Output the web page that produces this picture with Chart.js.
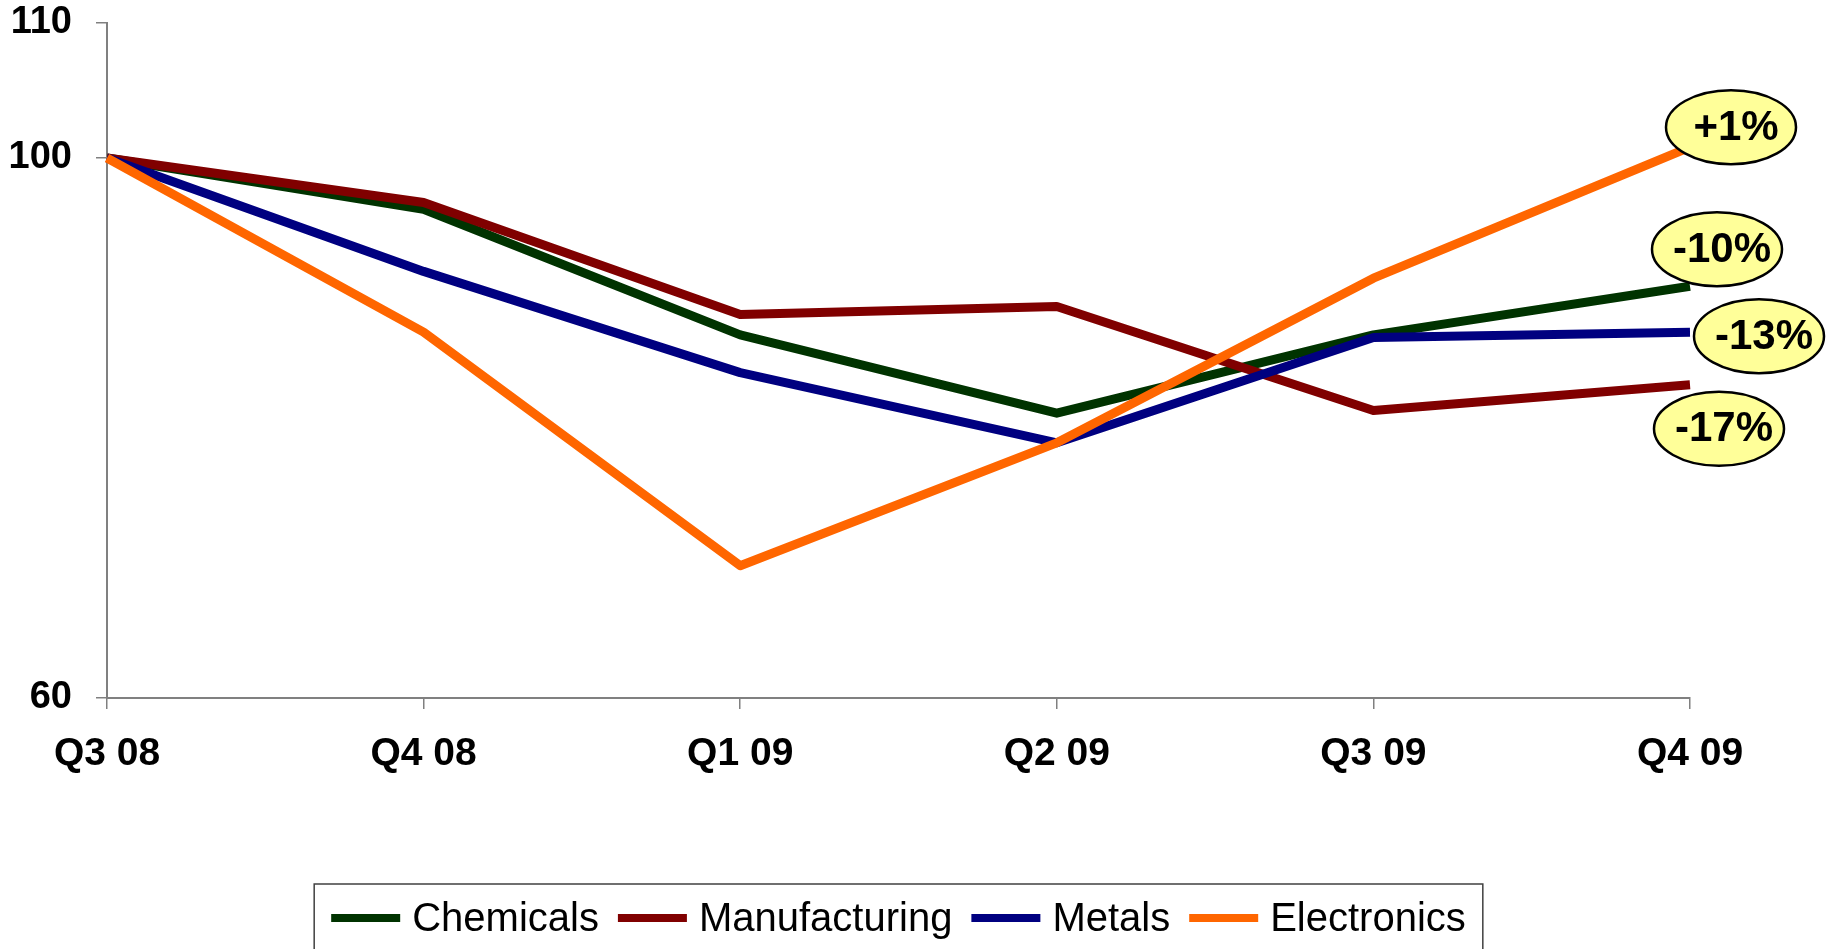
<!DOCTYPE html>
<html>
<head>
<meta charset="utf-8">
<script src="https://cdn.jsdelivr.net/npm/chart.js@4.4.1/dist/chart.umd.min.js"></script>
<style>
  html, body { margin: 0; padding: 0; background: #fff; }
  #wrap { width: 1838px; height: 949px; }
</style>
</head>
<body>
<div id="wrap"><canvas id="chart" width="1838" height="949"></canvas></div>
<script>
const quarters = ["Q3 08", "Q4 08", "Q1 09", "Q2 09", "Q3 09", "Q4 09"];
const chemicals = [100, 96.2, 86.9, 81.1, 86.9, 90.5];
const manufacturing = [100, 96.7, 88.4, 89.0, 81.3, 83.2];
const metals = [100, 91.6, 84.1, 78.9, 86.7, 87.1];
const electronics = [100, 87.1, 69.8, 78.9, 91.1, 100.8];
const changeLabels = ["-10%", "-17%", "-13%", "+1%"];
const yTicks = [60, 100, 110];

const FONT = "'Liberation Sans', Arial, sans-serif";

// yellow bubbles with the change, placed next to each line's last point
const endBubbles = {
  id: "endBubbles",
  afterDatasetsDraw(chart) {
    const ctx = chart.ctx;
    const offsets = [[27, -37], [29, 44], [69, 4], [41, -20]];
    chart.data.datasets.forEach((ds, i) => {
      const pts = chart.getDatasetMeta(i).data;
      const last = pts[pts.length - 1];
      const cx = last.x + offsets[i][0];
      const cy = last.y + offsets[i][1];
      ctx.save();
      ctx.beginPath();
      ctx.ellipse(cx, cy, 65, 37, 0, 0, Math.PI * 2);
      ctx.fillStyle = "#FFFF99";
      ctx.fill();
      ctx.lineWidth = 2.5;
      ctx.strokeStyle = "#000";
      ctx.stroke();
      ctx.fillStyle = "#000";
      ctx.font = "bold 42px " + FONT;
      ctx.textAlign = "center";
      ctx.textBaseline = "middle";
      ctx.fillText(changeLabels[i], cx + 5, cy + 1);
      ctx.restore();
    });
  },
};

// boxed legend under the axis
const boxLegend = {
  id: "boxLegend",
  afterDraw(chart) {
    const ctx = chart.ctx;
    const area = chart.chartArea;
    const sample = 69, gapText = 12, gapItem = 19, pad = 17;
    ctx.save();
    ctx.font = "40px " + FONT;
    const items = chart.data.datasets.map((ds) => ({
      label: ds.label,
      color: ds.borderColor,
      w: ctx.measureText(ds.label).width,
    }));
    let total = 0;
    items.forEach((it, i) => {
      total += sample + gapText + it.w + (i < items.length - 1 ? gapItem : 0);
    });
    const boxW = total + pad * 2;
    const left = (area.left + area.right) / 2 - boxW / 2;
    const top = 884;
    ctx.strokeStyle = "#404040";
    ctx.lineWidth = 1.5;
    ctx.strokeRect(left, top, boxW, 120);
    let x = left + pad;
    const cy = 918;
    items.forEach((it) => {
      ctx.fillStyle = it.color;
      ctx.fillRect(x, cy - 4, sample, 8);
      x += sample + gapText;
      ctx.fillStyle = "#000";
      ctx.textBaseline = "middle";
      ctx.textAlign = "left";
      ctx.fillText(it.label, x, cy + 2);
      x += it.w + gapItem;
    });
    ctx.restore();
  },
};

const lineStyle = { borderWidth: 9, pointRadius: 0, fill: false, tension: 0, borderJoinStyle: "round" };

new Chart(document.getElementById("chart"), {
  type: "line",
  data: {
    labels: quarters,
    datasets: [
      { label: "Chemicals", data: chemicals, borderColor: "#003300", order: 3, ...lineStyle },
      { label: "Manufacturing", data: manufacturing, borderColor: "#800000", order: 2, ...lineStyle },
      { label: "Metals", data: metals, borderColor: "#000080", order: 1, ...lineStyle },
      { label: "Electronics", data: electronics, borderColor: "#FF6600", order: 0, ...lineStyle },
    ],
  },
  options: {
    responsive: false,
    animation: false,
    devicePixelRatio: 1,
    layout: { padding: { top: 23, right: 148, bottom: 0, left: 0 } },
    plugins: { legend: { display: false }, tooltip: { enabled: false } },
    scales: {
      x: {
        offset: false,
        grid: { drawOnChartArea: false, tickLength: 11, color: "#808080", lineWidth: 1.5 },
        border: { color: "#808080", width: 2 },
        ticks: { color: "#000", padding: 22, maxRotation: 0, font: { family: FONT, size: 39, weight: "bold" } },
        afterFit: (scale) => { scale.height = 251; },
      },
      y: {
        min: 60,
        max: 110,
        afterBuildTicks: (scale) => { scale.ticks = yTicks.map((v) => ({ value: v })); },
        grid: { drawOnChartArea: false, tickLength: 11, color: "#808080", lineWidth: 1.5 },
        border: { color: "#808080", width: 2 },
        ticks: { color: "#000", padding: 24, font: { family: FONT, size: 38, weight: "bold" } },
        afterFit: (scale) => {
          scale.width = 107;
          scale.paddingTop = 0;
          scale.paddingBottom = 0;
        },
      },
    },
  },
  plugins: [endBubbles, boxLegend],
});
</script>
</body>
</html>
